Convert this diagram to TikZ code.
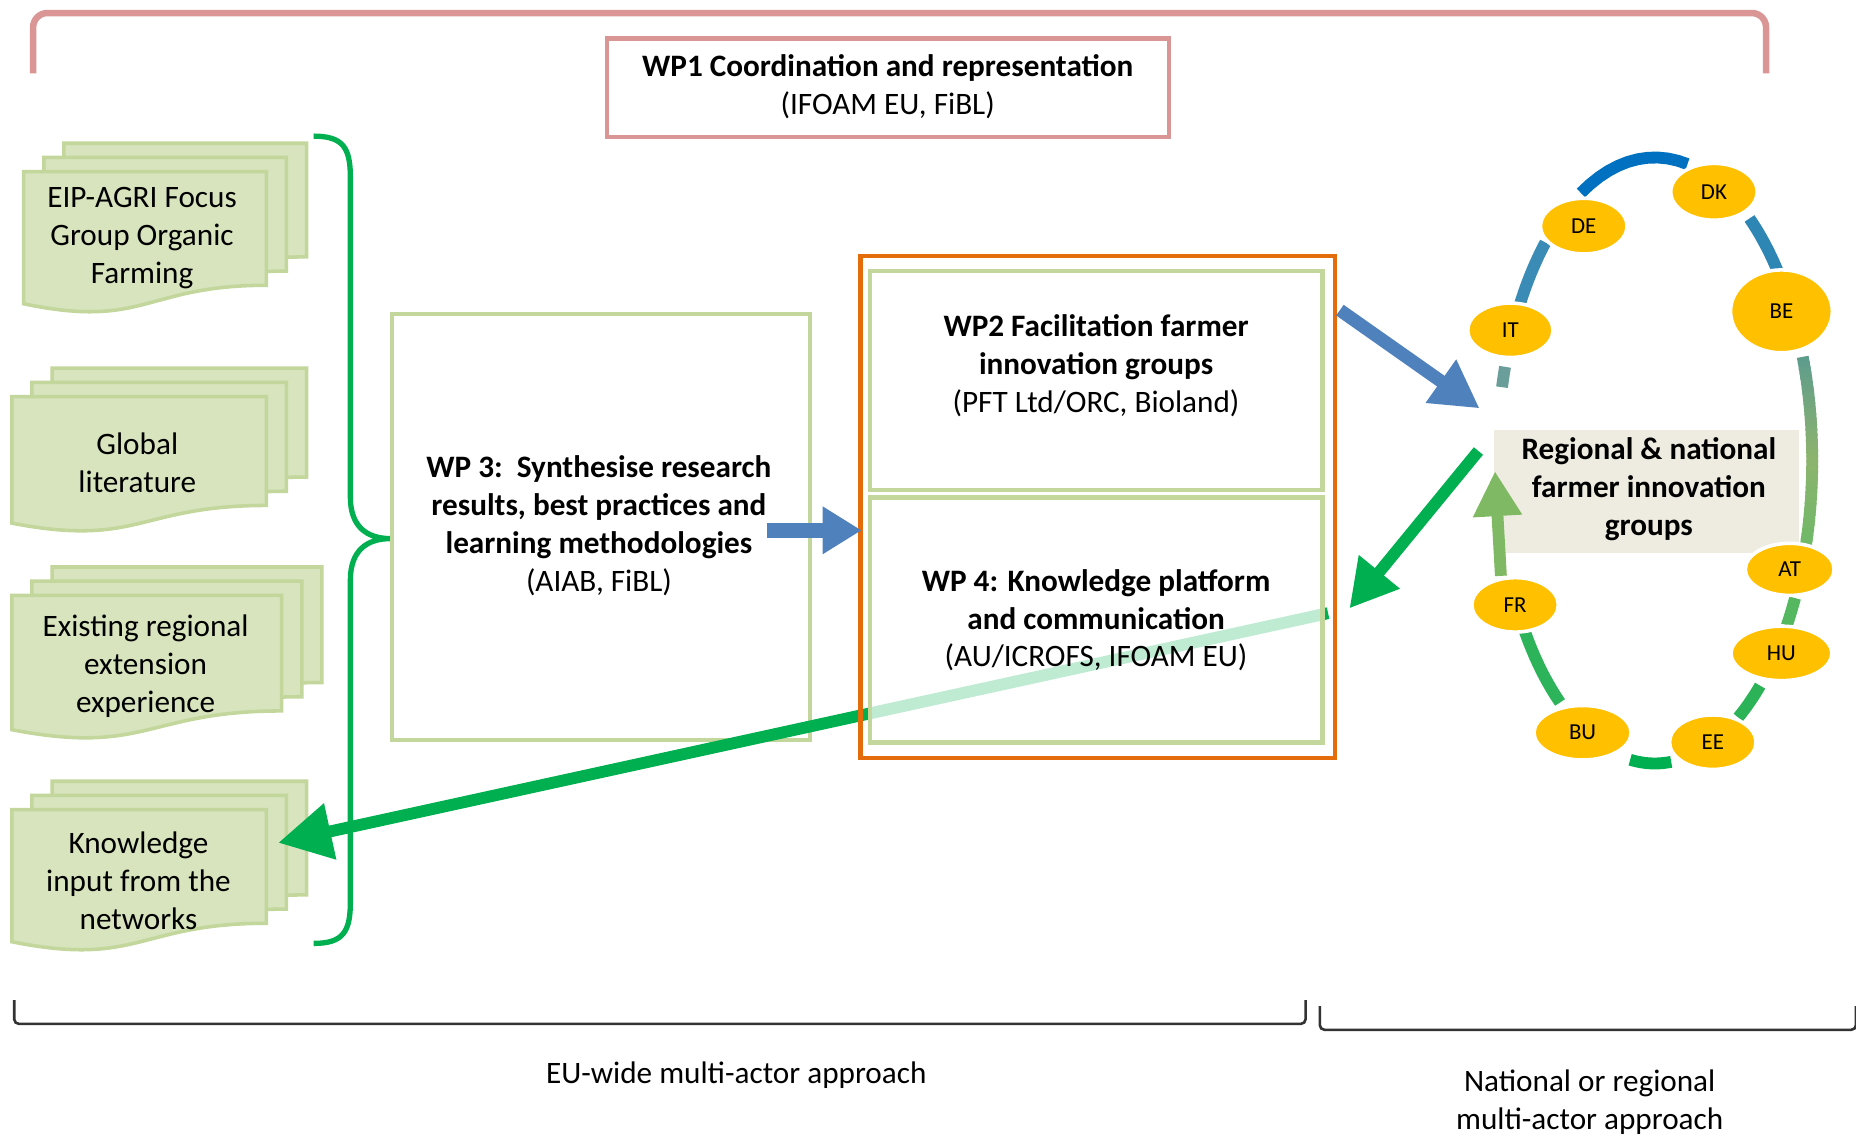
\documentclass[tikz,border=0pt]{standalone}
\usepackage{fontspec}
\setmainfont{Carlito}
\usetikzlibrary{arrows.meta,shapes.geometric}

\definecolor{wpred}{HTML}{D99694}
\definecolor{docfill}{HTML}{D7E4BD}
\definecolor{wpgreen}{HTML}{C3D69B}
\definecolor{bracegreen}{HTML}{00B050}
\definecolor{wporange}{HTML}{E46C0A}
\definecolor{arrowblue}{HTML}{4F81BD}
\definecolor{ovalgold}{HTML}{FFC000}
\definecolor{groupgrey}{HTML}{EEECE1}
\definecolor{ringA}{HTML}{0070C0}
\definecolor{ringB}{HTML}{2E86B5}
\definecolor{ringC}{HTML}{3A8BB5}
\definecolor{ringD}{HTML}{6A9E9A}
\definecolor{ringE}{HTML}{5E9C8C}
\definecolor{ringG}{HTML}{8DB46E}
\definecolor{ringH}{HTML}{6FB868}
\definecolor{ringI}{HTML}{55B860}
\definecolor{ringJ}{HTML}{2CB357}
\definecolor{ringK}{HTML}{00B050}
\definecolor{ringL}{HTML}{2DB35A}
\definecolor{ringM}{HTML}{80B964}

% 下辺が波形の書類（左上 x, y, 幅, 高さ）
\newcommand{\wavedoc}[4]{%
  \filldraw[docsheet] ({#1},{#2}) -- ({#1+#3},{#2}) -- ({#1+#3},{#2+0.80*#4})
    .. controls ({#1+0.5*#3},{#2+0.80*#4}) and ({#1+0.5*#3},{#2+1.11*#4}) .. ({#1},{#2+0.93*#4}) -- cycle;}
% 3枚重ねの書類
\newcommand{\docstack}[4]{%
  \wavedoc{#1+34}{#2-24}{#3}{#4}%
  \wavedoc{#1+17}{#2-12}{#3}{#4}%
  \wavedoc{#1}{#2}{#3}{#4}}

\begin{document}
\begin{tikzpicture}[x=0.1mm,y=-0.1mm,
    font=\fontsize{7.5pt}{9.1pt}\selectfont,
    docsheet/.style={fill=docfill,draw=wpgreen,line width=0.3mm},
    wpbox/.style={draw=wpgreen,line width=0.4mm,fill=white,inner sep=0pt},
    wptext/.style={align=center,inner sep=0pt},
    thickarrow/.style={line width=1.1mm,-{Triangle[length=4mm,width=4.2mm]}},
    ring/.style={line width=1mm},
    oval/.style={ellipse,fill=ovalgold,draw=white,line width=0.3mm,inner sep=0pt,font=\fontsize{5.5pt}{6pt}\selectfont},
    bracket/.style={black!80,line width=0.22mm,rounded corners=0.4mm}]
  \useasboundingbox (0,0) rectangle (1568,959);

  \draw[wpred,line width=0.55mm,rounded corners=1.2mm] (28,62) -- (28,11) -- (1492,11) -- (1492,62); % 全体を囲む上の括弧
  \node[draw=wpred,line width=0.35mm,minimum width=47.5mm,minimum height=8.3mm,inner sep=0pt] (wp1) at (750,74) {}; % WP1の枠
  \node[wptext] (wp1text) at (750,73) {\textbf{WP1 Coordination and representation}\\(IFOAM EU, FiBL)};

  \docstack{20}{145}{205}{120} % 1つ目の書類
  \node[wptext] (eip) at (120,201) {EIP-AGRI Focus\\Group Organic\\Farming};
  \docstack{10}{335}{215}{115} % 2つ目の書類
  \node[wptext] (lit) at (116,391) {Global\\literature};
  \docstack{10}{503}{228}{122} % 3つ目の書類
  \node[wptext] (ext) at (123,563) {Existing regional\\extension\\experience};
  \docstack{10}{684}{215}{120} % 4つ目の書類
  \node[wptext] (know) at (117,744) {Knowledge\\input from the\\networks};

  \draw[bracegreen,line width=0.45mm] (265,115) .. controls (290,115) and (296,125) .. (296,150) -- (296,420)
    .. controls (296,445) and (310,455) .. (330,455) .. controls (310,455) and (296,465) .. (296,490)
    -- (296,762) .. controls (296,787) and (290,797) .. (265,797); % 書類をまとめる中括弧

  \node[wpbox,line width=0.35mm,minimum width=35.3mm,minimum height=36mm] (wp3) at (507.5,445) {}; % WP3の枠
  \node[wptext] (wp3text) at (506,444) {\textbf{WP 3:\ \ Synthesise research}\\\textbf{results, best practices and}\\\textbf{learning methodologies}\\(AIAB, FiBL)};

  \coordinate (wp4out) at (1122,518);
  \coordinate (knowin) at (235,712);
  \draw[thickarrow,bracegreen,line width=1mm,-{Triangle[length=4.5mm,width=4.6mm]}] (wp4out) -- (knowin); % WP4から左の書類への矢印

  \node[draw=wporange,line width=0.35mm,minimum width=40.1mm,minimum height=42.4mm,inner sep=0pt] (core) at (927.5,428) {}; % オレンジの枠
  \node[wpbox,minimum width=38.2mm,minimum height=18.5mm] (wp2) at (926,321.5) {}; % WP2の枠
  \node[wpbox,fill opacity=0.75,minimum width=38.2mm,minimum height=20.7mm] (wp4) at (926,523.5) {}; % WP4の枠（半透明）
  \node[wptext] (wp2text) at (926,309) {\textbf{WP2 Facilitation farmer}\\\textbf{innovation groups}\\(PFT Ltd/ORC, Bioland)};
  \node[wptext] (wp4text) at (926,524) {\textbf{WP 4: Knowledge platform}\\\textbf{and communication}\\(AU/ICROFS, IFOAM EU)};

  \coordinate (wp3out) at (648,448);
  \coordinate (wp4in) at (728,448);
  \draw[thickarrow,arrowblue,line width=1.3mm,-{Triangle[length=3.3mm,width=3.8mm]}] (wp3out) -- (wp4in); % WP3からWP4への矢印

  % 右側の輪
  \node[fill=groupgrey,minimum width=25.8mm,minimum height=10.4mm,inner sep=0pt] (group) at (1391,415) {}; % 中央の灰色の枠
  \foreach \ta/\tb/\tc in {78/118/ringA,37/53/ringB,134/149/ringC,162/166/ringD,-27/-33/ringI,-48/-58/ringJ,-84/-99/ringK,-127/-150/ringL}
    \draw[ring,\tc] plot[domain=\ta:\tb,samples=12] ({1398+133*cos(\x)},{389-256*sin(\x)}); % 輪の各区間
  \foreach \t [evaluate=\t as \p using {(20-\t)*100/19}] in {20,19,...,2}
    \draw[ring,ringG!\p!ringE] plot[domain=\t:\t-1.4,samples=3] ({1398+133*cos(\x)},{389-256*sin(\x)}); % BEとATの間（上半分）
  \foreach \t [evaluate=\t as \p using {(1-\t)*100/17}] in {1,0,...,-16}
    \draw[ring,ringH!\p!ringG] plot[domain=\t:\t-1.4,samples=3] ({1398+133*cos(\x)},{389-256*sin(\x)}); % BEとATの間（下半分）
  \node[oval,minimum width=7.3mm,minimum height=4.6mm] (fr) at (1280,511) {FR};
  \coordinate (ringtip) at (1263,398);
  \draw[thickarrow,ringM,line width=1mm,-{Triangle[length=3.8mm,width=3.9mm]}] ([xshift=-1.2mm]fr.north) -- (ringtip); % 輪の上向き矢印
  \node[oval,minimum width=7.3mm,minimum height=4.8mm] (dk) at (1448,162) {DK};
  \node[oval,minimum width=7.3mm,minimum height=4.7mm] (de) at (1338,191) {DE};
  \node[oval,minimum width=7.2mm,minimum height=4.6mm] (it) at (1276,279) {IT};
  \node[oval,minimum width=8.6mm,minimum height=7.0mm] (be) at (1505,263) {BE};
  \node[oval,minimum width=7.5mm,minimum height=4.4mm] (at) at (1512,481) {AT};
  \node[oval,minimum width=8.5mm,minimum height=4.6mm] (hu) at (1505,552) {HU};
  \node[oval,minimum width=7.3mm,minimum height=4.6mm] (ee) at (1447,627) {EE};
  \node[oval,minimum width=8.2mm,minimum height=4.6mm] (bu) at (1337,619) {BU};
  \node[wptext] (grouptext) at (1393,413) {\textbf{Regional \& national}\\\textbf{farmer innovation}\\\textbf{groups}};

  \coordinate (wp2out) at (1132,262);
  \coordinate (groupin) at (1250,345);
  \coordinate (groupout) at (1249,381);
  \coordinate (wp4back) at (1140,514);
  \draw[thickarrow,arrowblue] (wp2out) -- (groupin); % WP2から輪への矢印
  \draw[thickarrow,bracegreen,line width=1mm] (groupout) -- (wp4back); % 輪からWP4への矢印

  % 下の括弧
  \draw[bracket] (12,845) -- (12,865) -- (1103,865) -- (1103,845);
  \draw[bracket] (1115,850) -- (1115,870) -- (1568,870) -- (1568,850);
  \node (euwide) at (622,908) {EU-wide multi-actor approach};
  \node[align=center] (national) at (1343,931) {National or regional\\multi-actor approach};
\end{tikzpicture}
\end{document}
